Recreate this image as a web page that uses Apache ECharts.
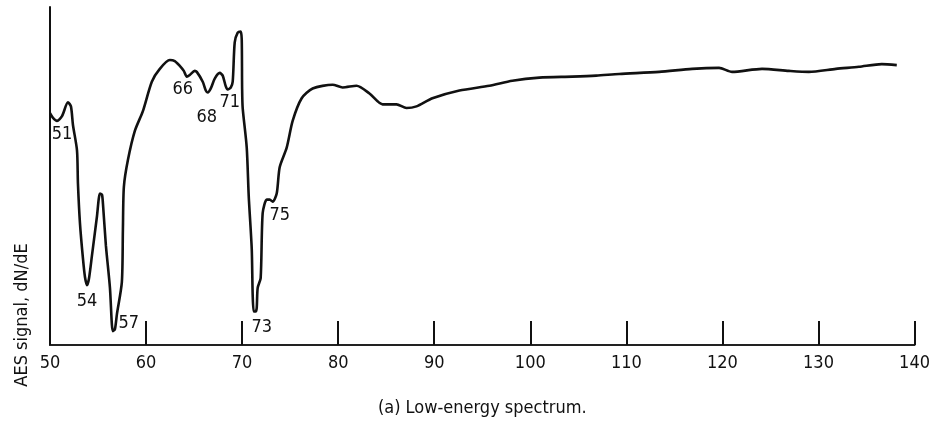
<!DOCTYPE html>
<html>
<head>
<meta charset="utf-8">
<script src="https://cdn.jsdelivr.net/npm/echarts@6/dist/echarts.min.js"></script>
<style>
html,body{margin:0;padding:0;background:#fff;}
#chart{width:933px;height:422px;}
</style>
</head>
<body>
<div id="chart"></div>
<script>
// Electron energy (eV) and AES signal (arbitrary units, 0-100)
const energy = [50.00,50.31,50.73,51.25,51.87,52.18,52.39,52.81,52.91,53.12,53.43,53.64,53.85,54.05,54.37,54.89,55.20,55.41,55.51,55.82,56.24,56.44,56.55,56.76,56.96,57.48,57.59,57.69,58.11,58.84,59.67,60.60,61.43,62.47,62.99,63.51,63.93,64.24,64.55,65.07,65.28,65.90,66.22,66.42,66.74,67.15,67.67,67.98,68.30,68.50,68.82,69.02,69.23,69.54,69.85,69.96,70.00,70.06,70.48,70.69,71.00,71.10,71.21,71.41,71.52,71.62,71.93,72.14,72.56,72.87,73.18,73.60,73.91,74.64,75.26,76.20,77.34,79.42,80.46,81.91,83.26,84.62,86.07,87.11,88.15,89.81,92.62,95.74,98.13,100.94,104.37,106.86,109.25,113.41,116.84,119.65,121.00,124.12,126.92,129.00,131.81,134.20,136.59,138.15];
const signal = [68.6,67.2,66.3,67.7,71.8,70.6,65.1,57.6,47.7,36.0,25.6,20.1,17.7,19.5,26.5,38.1,44.8,44.5,41.9,29.4,16.9,6.1,4.1,4.7,9.0,18.6,34.3,46.8,54.7,63.4,69.2,77.9,81.7,84.3,84.0,82.6,81.1,79.4,79.9,81.1,80.8,77.9,75.3,74.7,75.9,78.8,80.5,79.7,76.5,75.6,76.2,77.9,89.5,92.4,92.7,90.4,75.9,70.1,58.4,43.9,28.5,14.8,9.9,9.9,11.0,16.9,19.8,39.0,43.0,43.0,42.4,44.8,52.6,58.4,66.3,73.0,75.9,77.0,76.2,76.7,74.4,71.2,71.2,70.1,70.6,73.0,75.3,76.7,78.2,79.1,79.4,79.7,80.2,80.8,81.7,82.0,80.8,81.7,81.1,80.8,81.7,82.3,83.1,82.8];

// Peak annotations: label text, energy, signal position of the label
const peakLabels = ["51","54","57","66","68","71","73","75"];
const peakLabelEnergy = [51.25,53.85,58.21,63.83,66.32,68.71,72.04,73.91];
const peakLabelSignal = [62.2,12.8,6.4,75.6,67.4,71.8,5.2,38.4];

const xTicks = [50,60,70,80,90,100,110,120,130,140];

const FONT = '"Liberation Sans Narrow","DejaVu Sans Condensed","Arial Narrow",sans-serif';

const chart = echarts.init(document.getElementById('chart'), null, {renderer:'canvas'});
const lineData = energy.map((e,i)=>[e, signal[i]]);
const labelData = peakLabels.map((t,i)=>({value:[peakLabelEnergy[i], peakLabelSignal[i]], name:t}));

chart.setOption({
  animation:false,
  backgroundColor:'#fff',
  grid:{left:50, right:17, top:7, bottom:71, containLabel:false},
  xAxis:{
    type:'value', min:xTicks[0], max:xTicks[xTicks.length-1], interval:10,
    axisLine:{show:true, lineStyle:{color:'#222', width:2}},
    axisTick:{show:true, inside:true, length:24, lineStyle:{color:'#111', width:2}},
    axisLabel:{show:true, color:'#111', fontFamily:FONT, fontSize:18, margin:9},
    splitLine:{show:false},
    name:'(a) Low-energy spectrum.',
    nameLocation:'middle', nameGap:54,
    nameTextStyle:{color:'#111', fontFamily:FONT, fontSize:18}
  },
  yAxis:{
    type:'value', min:0, max:100,
    axisLine:{show:true, lineStyle:{color:'#111', width:2}},
    axisTick:{show:false}, axisLabel:{show:false}, splitLine:{show:false}
  },
  graphic:[{
    type:'text',
    rotation:Math.PI/2,
    x:22, y:315,
    style:{text:'AES signal, dN/dE', fill:'#111', font:'18px '+FONT, textAlign:'center', textVerticalAlign:'middle'}
  }],
  series:[{
    type:'line', data:lineData, showSymbol:false, symbol:'none', smooth:0.25,
    lineStyle:{color:'#111', width:2.6}
  },{
    type:'scatter', data:labelData, symbolSize:0,
    itemStyle:{opacity:1, color:'#111'},
    label:{show:true, position:'inside', formatter:p=>p.name, color:'#111', opacity:1, fontFamily:FONT, fontSize:18, textBorderWidth:0}
  }]
});
</script>
</body>
</html>
